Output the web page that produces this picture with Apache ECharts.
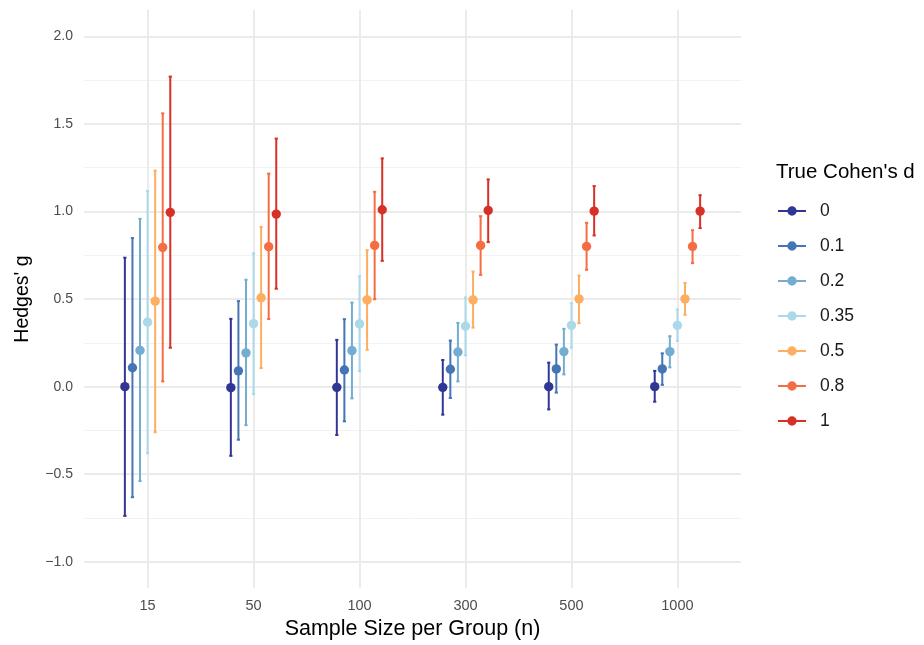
<!DOCTYPE html>
<html>
<head>
<meta charset="utf-8">
<script src="https://cdn.jsdelivr.net/npm/echarts@6/dist/echarts.min.js"></script>
<style>
  html, body { margin: 0; padding: 0; background: #fff; }
  #chart { width: 924px; height: 645px; }
</style>
</head>
<body>
<div id="chart"></div>
<script>
// sample sizes (x categories) and true effect sizes (series)
var sampleSizes = ['15', '50', '100', '300', '500', '1000'];
var trueD = ['0', '0.1', '0.2', '0.35', '0.5', '0.8', '1'];
var colors = ['#313695', '#4575b4', '#74add1', '#abd9e9', '#fdae61', '#f46d43', '#d73027'];

// mean Hedges' g per true d, one value per sample size
var meanG = {
  '0':    [0.000, -0.006, -0.004, -0.004, 0.000, 0.000],
  '0.1':  [0.108, 0.090, 0.095, 0.099, 0.101, 0.101],
  '0.2':  [0.207, 0.193, 0.206, 0.198, 0.200, 0.200],
  '0.35': [0.368, 0.360, 0.358, 0.345, 0.350, 0.350],
  '0.5':  [0.488, 0.507, 0.495, 0.495, 0.501, 0.501],
  '0.8':  [0.795, 0.799, 0.806, 0.806, 0.800, 0.800],
  '1':    [0.995, 0.985, 1.010, 1.006, 1.002, 1.002]
};
// lower and upper ends of the error bars
var lowerG = {
  '0':    [-0.738, -0.395, -0.276, -0.160, -0.130, -0.086],
  '0.1':  [-0.631, -0.303, -0.198, -0.065, -0.034, 0.010],
  '0.2':  [-0.539, -0.220, -0.067, 0.030, 0.070, 0.110],
  '0.35': [-0.380, -0.043, 0.088, 0.179, 0.223, 0.261],
  '0.5':  [-0.260, 0.106, 0.210, 0.337, 0.362, 0.410],
  '0.8':  [0.030, 0.386, 0.499, 0.638, 0.667, 0.705],
  '1':    [0.222, 0.559, 0.718, 0.825, 0.863, 0.905]
};
var upperG = {
  '0':    [0.736, 0.387, 0.267, 0.152, 0.137, 0.090],
  '0.1':  [0.848, 0.488, 0.385, 0.263, 0.240, 0.190],
  '0.2':  [0.958, 0.610, 0.480, 0.364, 0.330, 0.288],
  '0.35': [1.117, 0.761, 0.630, 0.509, 0.476, 0.440],
  '0.5':  [1.233, 0.911, 0.779, 0.657, 0.634, 0.592],
  '0.8':  [1.560, 1.216, 1.112, 0.973, 0.935, 0.893],
  '1':    [1.770, 1.416, 1.303, 1.183, 1.145, 1.093]
};

var FONT = "'Liberation Sans', Arial, sans-serif";
var dodgeWidth = 0.5;
var step = dodgeWidth / trueD.length;

var chart = echarts.init(document.getElementById('chart'));

var series = trueD.map(function (d, si) {
  var offset = (si - (trueD.length - 1) / 2) * step;
  var data = sampleSizes.map(function (n, i) {
    return [i + 1, meanG[d][i], lowerG[d][i], upperG[d][i]];
  });
  return {
    name: d,
    type: 'custom',
    itemStyle: { color: colors[si] },
    data: data,
    renderItem: function (params, api) {
      var x = api.value(0) + offset;
      var pMid = api.coord([x, api.value(1)]);
      var pLo = api.coord([x, api.value(2)]);
      var pHi = api.coord([x, api.value(3)]);
      var cap = 1.6;
      var ls = { stroke: colors[si], lineWidth: 2 };
      return {
        type: 'group',
        children: [
          { type: 'line', shape: { x1: pLo[0], y1: pLo[1], x2: pHi[0], y2: pHi[1] }, style: ls },
          { type: 'line', shape: { x1: pLo[0] - cap, y1: pLo[1], x2: pLo[0] + cap, y2: pLo[1] }, style: ls },
          { type: 'line', shape: { x1: pHi[0] - cap, y1: pHi[1], x2: pHi[0] + cap, y2: pHi[1] }, style: ls },
          { type: 'circle', shape: { cx: pMid[0], cy: pMid[1], r: 4.7 }, style: { fill: colors[si] } }
        ]
      };
    }
  };
});

var option = {
  backgroundColor: '#ffffff',
  animation: false,
  textStyle: { fontFamily: FONT },
  title: {
    text: "True Cohen's d",
    left: 771,
    top: 157,
    textStyle: { fontFamily: FONT, fontSize: 20.5, fontWeight: 'normal', color: '#000' }
  },
  legend: {
    orient: 'vertical',
    left: 773,
    top: 197,
    itemWidth: 28,
    itemHeight: 10,
    itemGap: 17,
    icon: 'path://M0,4H28V6H0Z M18.7,5A4.7,4.7,0,1,1,9.3,5A4.7,4.7,0,1,1,18.7,5Z',
    data: trueD,
    textStyle: { fontFamily: FONT, fontSize: 17.5, color: '#1a1a1a', padding: [0, 0, 0, 9] }
  },
  grid: { left: 84, width: 657, top: 10, height: 578.5 },
  xAxis: {
    type: 'value',
    min: 0.4,
    max: 6.6,
    splitNumber: 6,
    name: 'Sample Size per Group (n)',
    nameLocation: 'middle',
    nameGap: 27,
    nameTextStyle: { fontFamily: FONT, fontSize: 21.5, color: '#000' },
    axisLine: { show: false },
    axisTick: { show: false },
    axisLabel: {
      margin: 10,
      fontSize: 14.5,
      color: '#4d4d4d',
      fontFamily: FONT,
      showMinLabel: false,
      showMaxLabel: false,
      formatter: function (v) {
        var i = Math.round(v);
        return Math.abs(v - i) < 1e-6 && sampleSizes[i - 1] ? sampleSizes[i - 1] : '';
      }
    },
    splitLine: { show: true, showMinLine: false, showMaxLine: false, lineStyle: { color: '#ebebeb', width: 2 } }
  },
  yAxis: {
    type: 'value',
    min: -1.15,
    max: 2.15,
    splitNumber: 5,
    name: "Hedges' g",
    nameLocation: 'middle',
    nameGap: 51,
    nameTextStyle: { fontFamily: FONT, fontSize: 19.5, color: '#000' },
    axisLine: { show: false },
    axisTick: { show: false },
    axisLabel: {
      margin: 11,
      fontSize: 14,
      color: '#4d4d4d',
      fontFamily: FONT,
      showMinLabel: false,
      showMaxLabel: false,
      formatter: function (v) {
        if (Math.abs(v * 2 - Math.round(v * 2)) > 1e-6) return '';
        return v.toFixed(1).replace('-', '\u2212');
      }
    },
    splitLine: { show: true, showMinLine: false, showMaxLine: false, lineStyle: { color: '#ebebeb', width: 2 } },
    minorTick: { show: false, splitNumber: 2 },
    minorSplitLine: { show: true, lineStyle: { color: '#f2f2f2', width: 1 } }
  },
  series: series
};

chart.setOption(option);
</script>
</body>
</html>
